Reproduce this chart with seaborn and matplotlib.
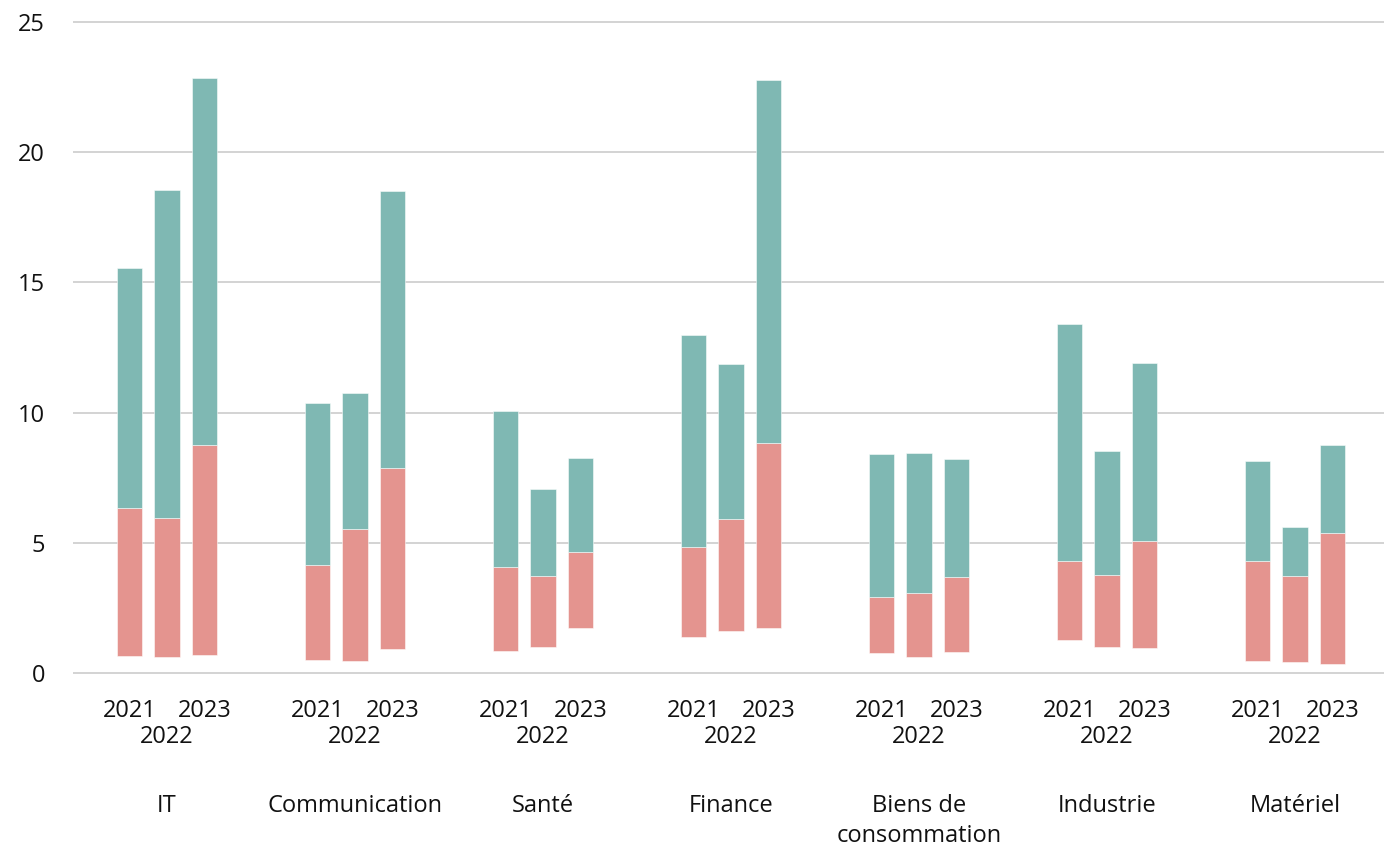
import numpy as np
import pandas as pd
import seaborn as sns
import matplotlib.pyplot as plt

categories = ["IT", "Communication", "Santé", "Finance", "Biens de\nconsommation", "Industrie", "Matériel"]
years = ["2021", "2022", "2023"]

low_2021 = [0.65, 0.50, 0.84, 1.38, 0.75, 1.27, 0.46]
mid_2021 = [6.34, 4.15, 4.07, 4.84, 2.91, 4.30, 4.30]
high_2021 = [15.55, 10.37, 10.06, 12.98, 8.41, 13.40, 8.14]

low_2022 = [0.63, 0.46, 1.00, 1.61, 0.61, 1.00, 0.42]
mid_2022 = [5.94, 5.53, 3.73, 5.91, 3.06, 3.76, 3.73]
high_2022 = [18.55, 10.75, 7.07, 11.87, 8.45, 8.53, 5.61]

low_2023 = [0.70, 0.92, 1.73, 1.73, 0.81, 0.96, 0.35]
mid_2023 = [8.77, 7.87, 4.65, 8.83, 3.68, 5.07, 5.38]
high_2023 = [22.86, 18.51, 8.26, 22.77, 8.22, 11.90, 8.76]

lows = [low_2021, low_2022, low_2023]
mids = [mid_2021, mid_2022, mid_2023]
highs = [high_2021, high_2022, high_2023]

RED = "#e4948f"
TEAL = "#7fb8b3"
offsets = [-0.199, 0.0, 0.199]
bar_w = 0.136

sns.set_style("white")
plt.rcParams["font.family"] = ["Open Sans", "DejaVu Sans"]

fig = plt.figure(figsize=(13.84, 8.46), dpi=100)
ax = fig.add_axes([73 / 1384, (846 - 686) / 846, 1 - 73 / 1384, (686 - 9) / 846])

for k, yr in enumerate(years):
    pos = np.arange(len(categories)) + offsets[k]
    lo = np.array(lows[k]); md = np.array(mids[k]); hi = np.array(highs[k])
    df_red = pd.DataFrame({"pos": pos, "h": md - lo})
    df_teal = pd.DataFrame({"pos": pos, "h": hi - md})
    sns.barplot(data=df_red, x="pos", y="h", native_scale=True, orient="x",
                width=bar_w, color=RED, saturation=1, errorbar=None,
                bottom=lo, edgecolor=(1, 1, 1, 0.6), linewidth=0.6, ax=ax, zorder=3)
    sns.barplot(data=df_teal, x="pos", y="h", native_scale=True, orient="x",
                width=bar_w, color=TEAL, saturation=1, errorbar=None,
                bottom=md, edgecolor=(1, 1, 1, 0.6), linewidth=0.6, ax=ax, zorder=3)

ax.set_xlim(-0.5, 6.473)
ax.set_ylim(-0.5, 25.5)
ax.set_yticks([0, 5, 10, 15, 20, 25])
ax.set_yticklabels(["0", "5", "10", "15", "20", "25"])
ax.grid(axis="y", color="#cccccc", linewidth=1.2, zorder=0)
ax.grid(axis="x", visible=False)
ax.set_axisbelow(True)
for s in ax.spines.values():
    s.set_visible(False)
ax.set_xlabel("")
ax.set_ylabel("")

ax.xaxis.remove_overlapping_locs = False

# Year tick labels
year_pos = []
year_lab = []
for i in range(len(categories)):
    for k, yr in enumerate(years):
        year_pos.append(i + offsets[k])
        year_lab.append(yr)
ax.set_xticks(year_pos)
ax.set_xticklabels(year_lab)
ax.tick_params(axis="x", which="major", length=0, pad=9, labelsize=17, colors="#111111")
for j, t in enumerate(ax.xaxis.get_major_ticks()):
    if j % 3 == 1:
        t.set_pad(28)

# Category labels as minor ticks
ax.set_xticks(np.arange(len(categories)), minor=True)
ax.set_xticklabels(categories, minor=True)
ax.tick_params(axis="x", which="minor", length=0, pad=78, labelsize=17, colors="#111111")
for lbl in ax.get_xticklabels(minor=True):
    lbl.set_linespacing(1.32)

ax.tick_params(axis="y", length=0, pad=20, labelsize=17, colors="#111111")

fig.savefig("out.png", dpi=100)
